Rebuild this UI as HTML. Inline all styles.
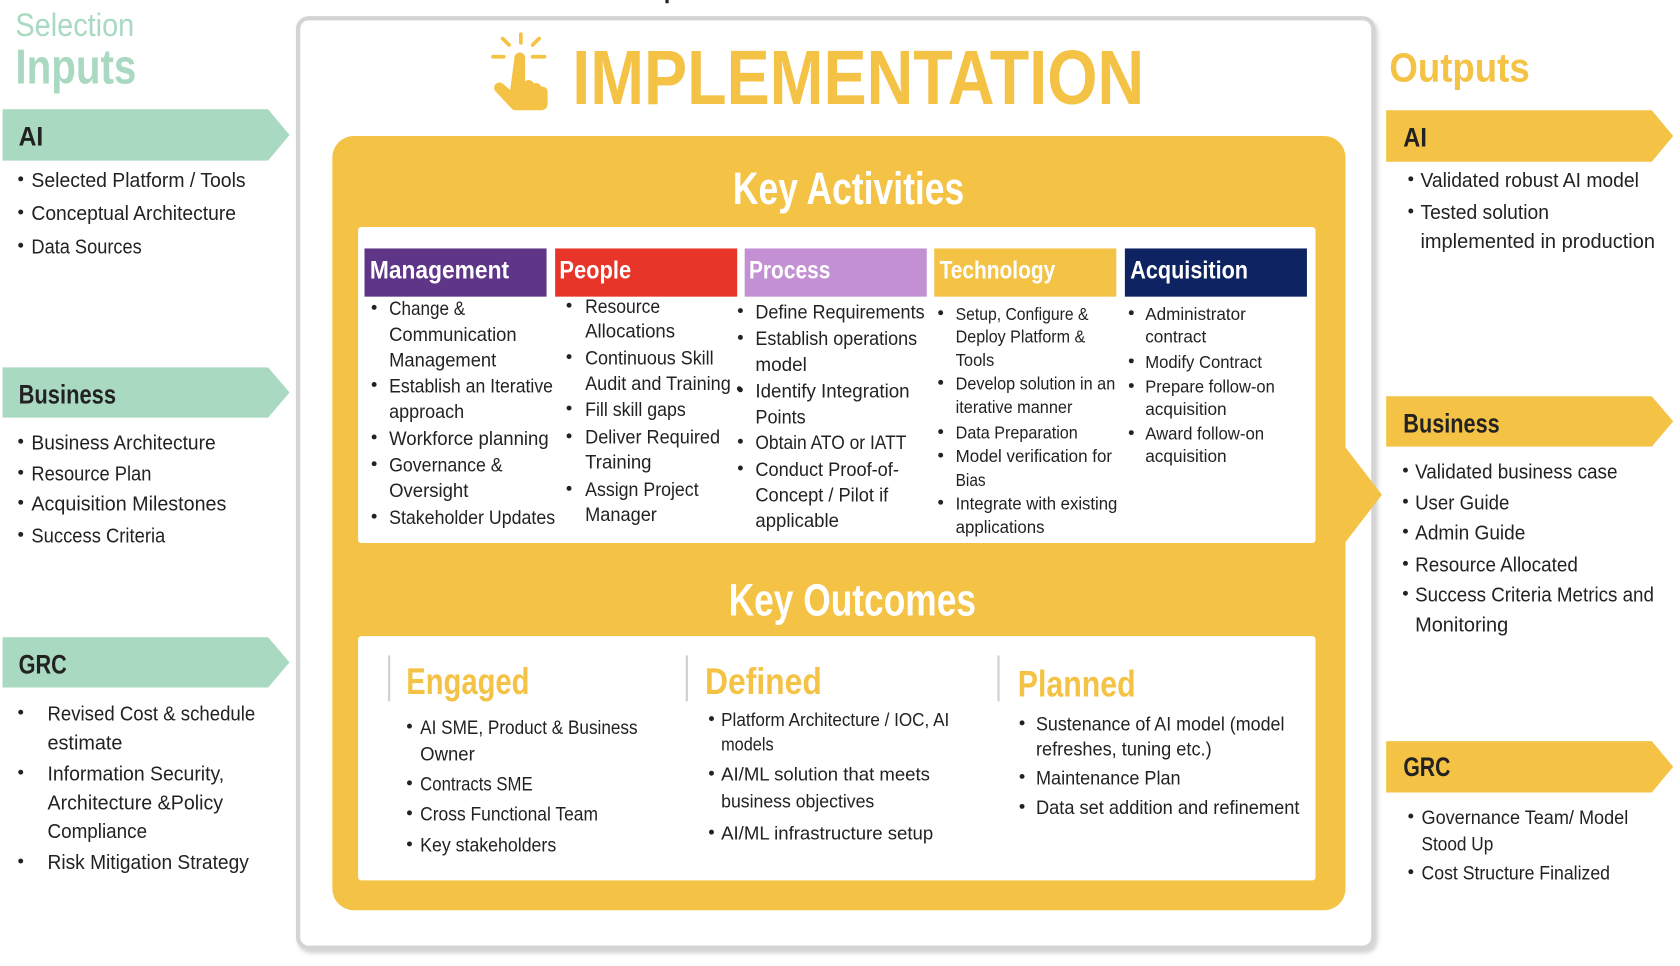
<!DOCTYPE html>
<html><head><meta charset="utf-8"><style>
html,body{margin:0;padding:0;background:#fff;width:1680px;height:966px;overflow:hidden}
svg{display:block}
text{font-family:"Liberation Sans",sans-serif}
</style></head><body>
<svg id="s" width="1680" height="966" viewBox="0 0 1568 902" xmlns="http://www.w3.org/2000/svg">
<defs><filter id="sh" x="-5%" y="-5%" width="110%" height="110%"><feDropShadow dx="2" dy="3" stdDeviation="2" flood-color="#000" flood-opacity="0.18"/></filter></defs>
<rect x="278" y="17" width="1004" height="868" rx="10" fill="#fff" stroke="#d4d4d4" stroke-width="4" filter="url(#sh)"/>
<rect x="621" y="0" width="3" height="3" fill="#222"/>
<g fill="#F4C245" stroke="#F4C245">
<line x1="486" y1="32" x2="486" y2="40" stroke-width="3.5" stroke-linecap="round"/>
<line x1="469" y1="36" x2="475" y2="42" stroke-width="3.5" stroke-linecap="round"/>
<line x1="503" y1="36" x2="497" y2="42" stroke-width="3.5" stroke-linecap="round"/>
<line x1="460" y1="53" x2="470" y2="53" stroke-width="3.5" stroke-linecap="round"/>
<line x1="497" y1="53" x2="508" y2="53" stroke-width="3.5" stroke-linecap="round"/>
<path stroke="none" d="M480 54 a5 5 0 0 1 10 0 v22 a5 5 0 0 1 8 2 a5 5 0 0 1 7 3 a5 5 0 0 1 6 4 v12 a6 6 0 0 1 -6 6 h-24 a5 5 0 0 1 -4 -2 l-15 -16 a5 5 0 0 1 7 -7 l7 6 z"/>
</g>
<g id="g"></g>
</svg>
<script>
const svg=document.getElementById('g');
const NS='http://www.w3.org/2000/svg';
const MINT='#A9D9C1',YEL='#F4C245',TXT='#222';
function add(tag,attrs,name,txt){const e=document.createElementNS(NS,tag);for(const k in attrs)e.setAttribute(k,attrs[k]);


if(txt!==undefined)e.textContent=txt;svg.appendChild(e);return e;}
// shapes
add('rect',{x:310,y:127,width:946,height:723,rx:20,fill:YEL},'key-panel-yellow');
add('path',{d:'M1250 410 L1290 462 L1250 514 Z',fill:YEL},'center-arrow-tip');
add('rect',{x:334,y:212,width:894,height:295,rx:3,fill:'#fff'},'activities-panel');
add('rect',{x:334,y:594,width:894,height:228,rx:3,fill:'#fff'},'outcomes-panel');
const heads=[['Management',340,'#5F3587',345,475],['People',518,'#E8352A',522,589],['Process',695,'#C490D4',699,775],['Technology',872,YEL,877,985],['Acquisition',1050,'#0E2462',1055,1165]];
heads.forEach(h=>{add('rect',{x:h[1],y:232,width:170,height:45,fill:h[2]},h[0].toLowerCase()+'-header');
add('text',{x:h[3],y:260,'font-size':23,'font-weight':'bold',fill:'#fff',textLength:h[4]-h[3],lengthAdjust:'spacingAndGlyphs'},h[0].toLowerCase()+'-header-label',h[0]);});
[363,641,932].forEach((x,i)=>add('line',{x1:x,y1:612,x2:x,y2:655,stroke:'#d0d0d0','stroke-width':2},'outcome-divider-'+i));
function arrow(x1,x2,y1,y2,c,n){const m=(y1+y2)/2;add('path',{d:`M${x1} ${y1} H${x2-20} L${x2} ${m} L${x2-20} ${y2} H${x1} Z`,fill:c},n);}
arrow(2,270,102,150,MINT,'input-ai-arrow');arrow(2,270,343,390,MINT,'input-business-arrow');arrow(2,270,595,642,MINT,'input-grc-arrow');
arrow(1294,1562,103,151,YEL,'output-ai-arrow');arrow(1294,1562,370,417,YEL,'output-business-arrow');arrow(1294,1562,692,740,YEL,'output-grc-arrow');
// texts: [text,x,yCenter,xEnd,size,bold,color]
function T(t,x,y,x2,s,b,c,n){add('text',{x:x,y:y+s*0.35,'font-size':s,'font-weight':b?'bold':'normal',fill:c,textLength:x2-x,lengthAdjust:'spacingAndGlyphs'},n,t);}
T('Selection',14,23,125,30,false,MINT,'selection-label');
T('Inputs',14,62,127,46,true,MINT,'inputs-title');
T('IMPLEMENTATION',534,72,1068,72,true,YEL,'implementation-title');
T('Key Activities',684,176,900,42,true,'#fff','key-activities-title');
T('Key Outcomes',680,560,911,42,true,'#fff','key-outcomes-title');
T('Outputs',1297,63,1428,38,true,YEL,'outputs-title');
T('AI',17,127,40,25,true,TXT,'input-ai-label');T('Business',17,368,108,25,true,TXT,'input-business-label');T('GRC',17,620,62,25,true,TXT,'input-grc-label');
T('AI',1310,128,1332,25,true,TXT,'output-ai-label');T('Business',1310,395,1400,25,true,TXT,'output-business-label');T('GRC',1310,716,1354,25,true,TXT,'output-grc-label');
T('Engaged',379,636,494,35,true,YEL,'engaged-title');T('Defined',658,636,767,35,true,YEL,'defined-title');T('Planned',950,638,1060,35,true,YEL,'planned-title');
// bullet lists: [bulletX,textX,size, [[text,y,end,hasBullet]...]]
const lists={
'input-ai':[17,29,19,[['Selected Platform / Tools',168,229,1],['Conceptual Architecture',199,220,1],['Data Sources',230,132,1]]],
'input-business':[17,29,19,[['Business Architecture',413,201,1],['Resource Plan',442,141,1],['Acquisition Milestones',470,211,1],['Success Criteria',500,154,1]]],
'input-grc':[17,44,19,[['Revised Cost & schedule',666,238,1],['estimate',693,114,0],['Information  Security,',722,209,1],['Architecture &Policy',749,208,0],['Compliance',776,137,0],['Risk Mitigation Strategy',805,232,1]]],
'management':[347,363,18,[['Change &',288,434,1],['Communication',312,482,0],['Management',336,463,0],['Establish an Iterative',360,516,1],['approach',384,433,0],['Workforce planning',409,512,1],['Governance &',434,469,1],['Oversight',458,437,0],['Stakeholder Updates',483,518,1]]],
'people':[529,546,18,[['Resource',286,616,1],['Allocations',309,630,0],['Continuous Skill',334,666,1],['Audit and Training',358,682,0],['Fill skill gaps',382,640,1],['Deliver Required',408,672,1],['Training',431,608,0],['Assign Project',457,652,1],['Manager',480,613,0]]],
'process':[689,705,18,[['Define Requirements',291,863,1],['Establish operations',316,856,1],['model',340,753,0],['Identify Integration',365,849,1],['Points',389,752,0],['Obtain ATO or IATT',413,846,1],['Conduct Proof-of-',438,839,1],['Concept / Pilot if',462,829,0],['applicable',486,783,0]]],
'technology':[876,892,16,[['Setup,  Configure &',293,1016,1],['Deploy Platform &',314,1013,0],['Tools',336,928,0],['Develop solution in an',358,1041,1],['iterative manner',380,1001,0],['Data Preparation',404,1006,1],['Model verification for',426,1038,1],['Bias',448,920,0],['Integrate with existing',470,1043,1],['applications',492,975,0]]],
'acquisition':[1054,1069,16,[['Administrator',293,1163,1],['contract',314,1126,0],['Modify Contract',338,1178,1],['Prepare follow-on',361,1190,1],['acquisition',382,1145,0],['Award follow-on',405,1180,1],['acquisition',426,1145,0]]],
'engaged':[380,392,18,[['AI SME, Product & Business',679,595,1],['Owner',704,443,0],['Contracts SME',732,497,1],['Cross Functional Team',760,558,1],['Key stakeholders',789,519,1]]],
'defined':[662,673,17,[['Platform Architecture / IOC, AI',672,886,1],['models',695,722,0],['AI/ML solution that meets',723,868,1],['business objectives',748,816,0],['AI/ML infrastructure setup',778,871,1]]],
'planned':[952,967,18,[['Sustenance of AI model (model',676,1199,1],['refreshes, tuning etc.)',699,1131,0],['Maintenance Plan',726,1102,1],['Data set addition and refinement',754,1213,1]]],
'output-ai':[1315,1326,19,[['Validated robust AI model',168,1530,1],['Tested solution',198,1446,1],['implemented  in production',225,1545,0]]],
'output-business':[1310,1321,19,[['Validated business case',440,1510,1],['User Guide',469,1409,1],['Admin Guide',497,1424,1],['Resource Allocated',527,1473,1],['Success Criteria Metrics and',555,1544,1],['Monitoring',583,1408,0]]],
'output-grc':[1315,1327,18,[['Governance Team/ Model',763,1520,1],['Stood Up',788,1394,0],['Cost Structure Finalized',815,1503,1]]]
};
for(const k in lists){const [bx,tx,s,items]=lists[k];items.forEach((it,i)=>{
if(it[3])add('circle',{cx:bx+2,cy:it[1]-1,r:2.3,fill:TXT},k+'-bullet-'+i);
T(it[0],tx,it[1],it[2],s,false,TXT,k+'-item-'+i);});}
add('circle',{cx:690,cy:363,r:2.3,fill:TXT},'process-bullet-extra');
</script>
</body></html>
